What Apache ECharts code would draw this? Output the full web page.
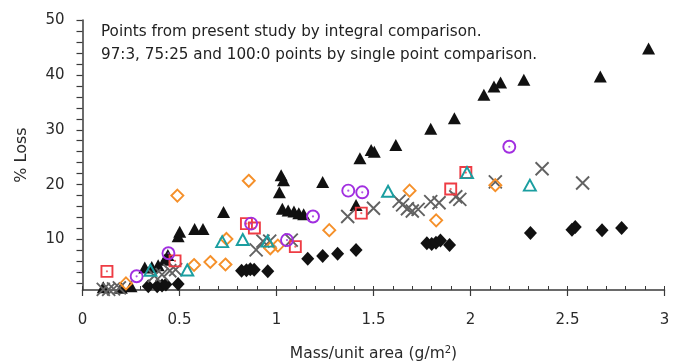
<!DOCTYPE html>
<html>
<head>
<meta charset="utf-8">
<script src="https://cdn.jsdelivr.net/npm/echarts@6/dist/echarts.min.js"></script>
<style>
  html, body { margin: 0; padding: 0; background: #fff; }
  #chart { width: 673px; height: 363px; }
</style>
</head>
<body>
<div id="chart"></div>
<script>
// Mass per unit area (g/m2) vs % loss, one array of [x, y] pairs per marker set
var filledTriangles = [
  [0.107, 1.3], [0.2, 1.2], [0.25, 1.5], [0.321, 4.9], [0.357, 5.0], [0.39, 5.3],
  [0.424, 6.3], [0.44, 7.2], [0.493, 10.6], [0.501, 11.4], [0.578, 11.9], [0.621, 11.9],
  [0.727, 15.0], [1.015, 18.6], [1.024, 21.7], [1.036, 20.8], [1.03, 15.6], [1.06, 15.3],
  [1.09, 15.1], [1.115, 14.8], [1.14, 14.6], [1.238, 20.5], [1.41, 16.3], [1.43, 24.8],
  [1.488, 26.3], [1.504, 26.0], [1.615, 27.2], [1.795, 30.2], [1.917, 32.1], [2.069, 36.4],
  [2.121, 37.9], [2.155, 38.6], [2.275, 39.1], [2.669, 39.7], [2.918, 44.8]
];
var filledDiamonds = [
  [0.339, 1.5], [0.385, 1.5], [0.41, 1.6], [0.43, 1.8], [0.493, 1.9], [0.82, 4.3],
  [0.845, 4.4], [0.865, 4.6], [0.885, 4.5], [0.955, 4.2], [1.161, 6.5], [1.238, 7.0],
  [1.315, 7.4], [1.41, 8.1], [1.775, 9.3], [1.8, 9.2], [1.822, 9.4], [1.845, 9.8],
  [1.892, 9.0], [2.309, 11.2], [2.523, 11.8], [2.54, 12.3], [2.678, 11.7], [2.779, 12.1]
];
var crosses = [
  [0.107, 0.9], [0.135, 0.9], [0.16, 1.0], [0.19, 1.2], [0.37, 3.4], [0.41, 3.6],
  [0.45, 4.3], [0.48, 4.5], [0.895, 8.1], [0.93, 9.7], [0.965, 9.7], [1.076, 9.9],
  [1.367, 14.2], [1.5, 15.7], [1.632, 17.0], [1.65, 16.3], [1.675, 15.6], [1.7, 15.2],
  [1.73, 15.5], [1.795, 16.9], [1.838, 16.7], [1.924, 17.8], [1.945, 17.3], [2.128, 20.5],
  [2.369, 22.9], [2.578, 20.3]
];
var openDiamonds = [
  [0.224, 2.0], [0.489, 18.0], [0.575, 5.35], [0.659, 5.9], [0.737, 5.45], [0.742, 10.1],
  [0.857, 20.7], [0.968, 8.4], [1.007, 8.9], [1.272, 11.7], [1.686, 18.9], [1.823, 13.5],
  [2.128, 19.9]
];
var openSquares = [
  [0.126, 4.2], [0.477, 6.1], [0.845, 12.9], [0.886, 12.1], [1.097, 8.7], [1.437, 14.8],
  [1.898, 19.2], [1.976, 22.2]
];
var openCircles = [
  [0.279, 3.3], [0.443, 7.5], [0.869, 12.9], [1.054, 9.9], [1.188, 14.2], [1.37, 18.9],
  [1.442, 18.6], [2.2, 26.9]
];
var openTriangles = [
  [0.35, 4.4], [0.54, 4.45], [0.72, 9.6], [0.826, 10.0], [0.954, 9.7], [1.575, 18.8],
  [1.982, 22.2], [2.306, 19.9]
];

var xLabels = [0, 0.5, 1, 1.5, 2, 2.5, 3];
var yLabels = [10, 20, 30, 40, 50];
var noteLines = [
  'Points from present study by integral comparison.',
  '97:3, 75:25 and 100:0 points by single point comparison.'
];

var FONT = 'DejaVu Sans';
var AXIS = '#3a3a3a';
var TEXT = '#2a2a2a';

function range(a, b, step) {
  var out = [];
  for (var v = a; v <= b + 1e-9; v += step) out.push(Math.round(v * 100) / 100);
  return out;
}

function openStyle(color) {
  return { color: 'rgba(255,255,255,0)', borderColor: color, borderWidth: 1.9, opacity: 1 };
}

// small centre dot drawn inside the open circles and squares
function centreDots(data, color) {
  return {
    type: 'scatter', data: data, clip: false, z: 5, silent: true,
    symbol: 'circle', symbolSize: 2.2,
    itemStyle: { color: color, opacity: 0.8 }
  };
}

var chart = echarts.init(document.getElementById('chart'), null, { renderer: 'canvas' });

chart.setOption({
  animation: false,
  backgroundColor: '#fff',
  grid: { left: 82.5, right: 8.5, top: 20, bottom: 73, containLabel: false, outerBoundsMode: 'none' },
  xAxis: [
    {
      type: 'value', min: 0, max: 3, interval: 0.5,
      name: 'Mass/unit area (g/m{sup|2})',
      nameLocation: 'middle', nameGap: 55,
      nameTextStyle: {
        fontFamily: FONT, fontSize: 15.5, color: TEXT,
        rich: { sup: { fontFamily: FONT, fontSize: 10, color: TEXT, verticalAlign: 'bottom', padding: [0, 0, 8, 0] } }
      },
      axisLine: { onZero: false, lineStyle: { color: AXIS, width: 1.5 } },
      axisTick: { show: true, length: 6, lineStyle: { color: AXIS, width: 1.2 }, customValues: xLabels },
      axisLabel: {
        fontFamily: FONT, fontSize: 15, color: TEXT, margin: 23,
        customValues: xLabels,
        formatter: function (v) { return String(v); }
      },
      splitLine: { show: false }
    },
    {
      type: 'value', min: 0, max: 3, position: 'bottom', offset: 0,
      axisLine: { show: false },
      axisTick: { show: true, inside: true, length: 4, lineStyle: { color: AXIS, width: 1 }, customValues: range(0, 3, 0.1) },
      axisLabel: { show: false },
      splitLine: { show: false }
    }
  ],
  yAxis: {
    type: 'value', min: 0.8, max: 50,
    name: '% Loss', nameLocation: 'middle', nameGap: 53, nameRotate: 90,
    nameTextStyle: { fontFamily: FONT, fontSize: 16, color: TEXT },
    axisLine: { onZero: false, lineStyle: { color: AXIS, width: 1.5 } },
    axisTick: { show: true, length: 6, lineStyle: { color: AXIS, width: 1.2 }, customValues: range(2, 50, 2) },
    axisLabel: { fontFamily: FONT, fontSize: 15, color: TEXT, margin: 18, customValues: yLabels },
    splitLine: { show: false }
  },
  graphic: [
    {
      type: 'text', left: 101, top: 21,
      style: { text: noteLines.join('\n'), fontFamily: FONT, fontSize: 15.2, lineHeight: 22.5, fill: '#222' }
    }
  ],
  series: [
    {
      type: 'scatter', data: filledDiamonds, clip: false, z: 2,
      symbol: 'diamond', symbolSize: [13, 14],
      itemStyle: { color: '#111', opacity: 1 }
    },
    {
      type: 'scatter', data: filledTriangles, clip: false, z: 2,
      symbol: 'triangle', symbolSize: [13, 12],
      itemStyle: { color: '#111', opacity: 1 }
    },
    {
      type: 'scatter', data: crosses, clip: false, z: 3,
      symbol: 'path://M0,0L10,10M10,0L0,10', symbolSize: 13,
      itemStyle: { color: 'rgba(0,0,0,0)', borderColor: '#626262', borderWidth: 1.9, opacity: 1 }
    },
    {
      type: 'scatter', data: openDiamonds, clip: false, z: 4,
      symbol: 'diamond', symbolSize: [12, 12],
      itemStyle: openStyle('#f5902a')
    },
    {
      type: 'scatter', data: openSquares, clip: false, z: 4,
      symbol: 'rect', symbolSize: 11,
      itemStyle: openStyle('#ee3c44')
    },
    {
      type: 'scatter', data: openCircles, clip: false, z: 4,
      symbol: 'circle', symbolSize: 12,
      itemStyle: openStyle('#a12ee0')
    },
    {
      type: 'scatter', data: openTriangles, clip: false, z: 4,
      symbol: 'triangle', symbolSize: [12, 11],
      itemStyle: openStyle('#1a9ea0')
    },
    centreDots(openSquares, '#ee3c44'),
    centreDots(openCircles, '#a12ee0')
  ]
});
</script>
</body>
</html>
